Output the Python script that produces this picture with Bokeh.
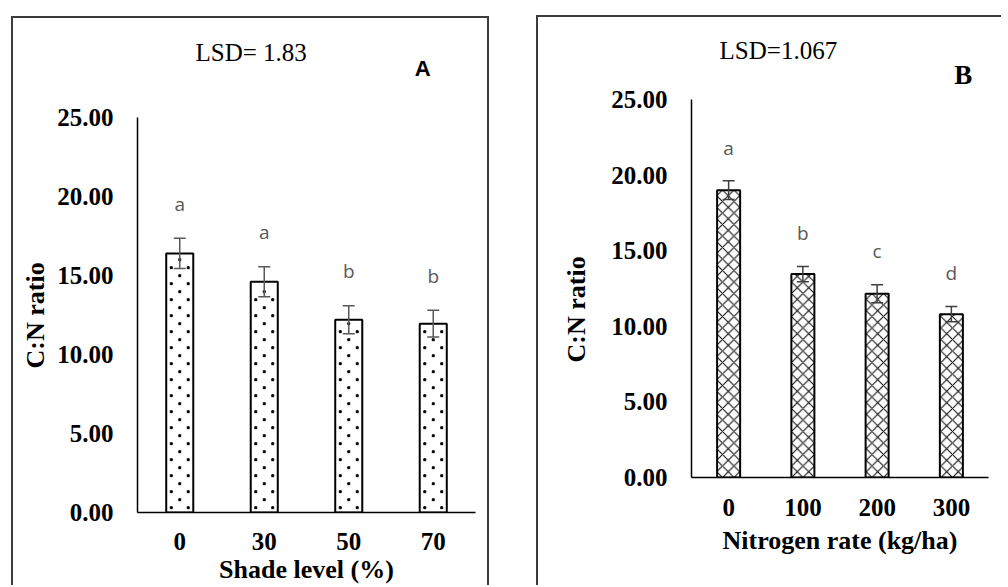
from bokeh.plotting import figure
from bokeh.layouts import row
from bokeh.models import (ColumnDataSource, Whisker, Label, Title, FactorRange, Range1d,
                          NumeralTickFormatter, FixedTicker, TeeHead)
from bokeh.embed import file_html
from bokeh.resources import INLINE
from bokeh.core.properties import value

# ---------------- data ----------------
shade_levels = ["0", "30", "50", "70"]
shade_cn = [16.4, 14.6, 12.2, 11.95]
shade_se = [0.95, 0.95, 0.88, 0.85]
shade_letters = ["a", "a", "b", "b"]
shade_lsd = "LSD= 1.83"

nitrogen_rates = ["0", "100", "200", "300"]
nitrogen_cn = [19.0, 13.45, 12.15, 10.8]
nitrogen_se = [0.62, 0.5, 0.6, 0.5]
nitrogen_letters = ["a", "b", "c", "d"]
nitrogen_lsd = "LSD=1.067"

y_ticks = [0, 5, 10, 15, 20, 25]
y_title = "C:N ratio"

SERIF = "Liberation Serif"
SANS = "Liberation Sans"
FRAME = "2px solid #3c3c3c"


def stipple(vals, bar_width, dx, dy):
    """Staggered fine dots filling each bar (the reference's dotted fill)."""
    xs, ys = [], []
    for i, v in enumerate(vals):
        c = i + 0.5
        k = 0
        y = dy * 0.6
        while y < v - dy * 0.3:
            offs = [-dx, dx] if k % 2 == 0 else [0.0]
            for o in offs:
                if abs(o) < bar_width / 2:
                    xs.append(c + o)
                    ys.append(y)
            y += dy
            k += 1
    return xs, ys


def panel(cats, vals, errs, letters, lsd, tag, tag_font, tag_size, xlabel,
          hatch, hatch_scale, bar_width, err_color,
          width, height, left, right, top, bottom, y_end, margin, styles,
          lsd_xy, tag_xy, ytitle_offset, ytitle_standoff, letter_gap,
          xtick_standoff, xlabel_standoff, dots=None):
    src = ColumnDataSource(dict(
        cat=cats, val=vals,
        lo=[v - e for v, e in zip(vals, errs)],
        hi=[v + e for v, e in zip(vals, errs)],
        ly=[v + e + letter_gap for v, e in zip(vals, errs)],
        lt=letters))
    p = figure(x_range=FactorRange(*cats), y_range=Range1d(0, y_end),
               width=width, height=height,
               min_border_left=left, min_border_right=right,
               min_border_top=top, min_border_bottom=bottom,
               toolbar_location=None, output_backend="svg",
               margin=margin, styles=styles, frame_align=False)
    p.outline_line_color = None
    p.grid.visible = False
    p.background_fill_color = "white"
    p.border_fill_color = "white"

    p.vbar(x="cat", top="val", width=bar_width, source=src,
           fill_color="white", line_color="black", line_width=2,
           hatch_pattern=hatch, hatch_scale=hatch_scale,
           hatch_weight=1, hatch_color="black")

    if dots is not None:
        xs, ys = stipple(vals, bar_width, *dots)
        p.scatter(x=xs, y=ys, marker="square", size=2, color="black")

    w = Whisker(source=src, base="cat", lower="lo", upper="hi",
                line_color=err_color, line_width=1.5, level="overlay",
                upper_head=TeeHead(size=12, line_color=err_color, line_width=1.5),
                lower_head=TeeHead(size=12, line_color=err_color, line_width=1.5))
    p.add_layout(w)

    p.text(x="cat", y="ly", text="lt", source=src,
           text_font=value("Open Sans"), text_font_size="19px",
           text_color="#595959", text_align="center", text_baseline="middle")

    for ax in (p.xaxis[0], p.yaxis[0]):
        ax.axis_line_color = "black"
        ax.axis_line_width = 1.5
        ax.major_tick_line_color = None
        ax.minor_tick_line_color = None
        ax.major_tick_out = 0
        ax.major_tick_in = 0
        ax.major_label_text_font = SERIF
        ax.major_label_text_font_style = "bold"
        ax.major_label_text_font_size = "25px"
        ax.major_label_text_color = "black"
    p.yaxis.ticker = FixedTicker(ticks=y_ticks)
    p.yaxis.formatter = NumeralTickFormatter(format="0.00")
    p.yaxis.bounds = (0, 25)
    p.yaxis.major_label_standoff = 24
    p.xaxis.major_label_standoff = xtick_standoff
    p.xaxis.axis_label = xlabel
    p.xaxis.axis_label_standoff = xlabel_standoff
    p.xaxis.axis_label_text_font = SERIF
    p.xaxis.axis_label_text_font_style = "bold"
    p.xaxis.axis_label_text_font_size = "26px"
    p.xaxis.axis_label_text_color = "black"

    p.add_layout(Title(text=y_title, align="left", offset=ytitle_offset,
                       standoff=ytitle_standoff, text_font=SERIF,
                       text_font_style="bold", text_font_size="26px",
                       text_color="black"), "left")

    p.add_layout(Label(x=lsd_xy[0], y=lsd_xy[1], text=lsd, text_font=SERIF,
                       text_font_size="25px", text_color="black",
                       text_align="center", text_baseline="middle"))
    p.add_layout(Label(x=tag_xy[0], y=tag_xy[1], text=tag, text_font=tag_font,
                       text_font_style="bold", text_font_size=tag_size,
                       text_color="black", text_align="center",
                       text_baseline="middle"))
    return p


pa = panel(shade_levels, shade_cn, shade_se, shade_letters, shade_lsd,
           "A", SANS, "22px", "Shade level (%)",
           None, 1, 0.32, "#595959",
           width=478, height=569, left=123, right=16, top=17, bottom=75,
           y_end=30.19, margin=(16, 0, 0, 11),
           styles={"border-top": FRAME, "border-left": FRAME, "border-right": FRAME},
           lsd_xy=(1.345, 29.1), tag_xy=(3.375, 28.1),
           ytitle_offset=144, ytitle_standoff=10, letter_gap=2.2,
           xtick_standoff=20, xlabel_standoff=2,
           dots=(8.5 / 84.75, 8.0 / 15.8))

pb = panel(nitrogen_rates, nitrogen_cn, nitrogen_se, nitrogen_letters, nitrogen_lsd,
           "B", SERIF, "27px", "Nitrogen rate (kg/ha)",
           "diagonal_cross", 11.5, 0.31, "#404040",
           width=465, height=570, left=153, right=15, top=13, bottom=110,
           y_end=29.56, margin=(15, 0, 0, 47),
           styles={"border-top": FRAME, "border-left": FRAME},
           lsd_xy=(1.17, 28.24), tag_xy=(3.66, 26.6),
           ytitle_offset=115, ytitle_standoff=36, letter_gap=2.2,
           xtick_standoff=21, xlabel_standoff=7)

layout = row(pa, pb)

open("out.html", "w").write(file_html(layout, INLINE))
